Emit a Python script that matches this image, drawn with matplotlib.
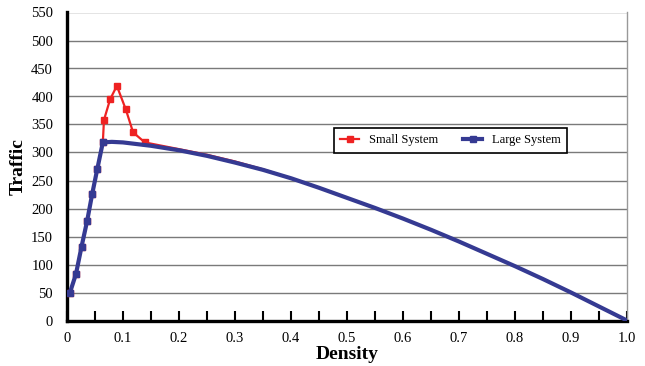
import matplotlib
matplotlib.use("Agg")
import matplotlib.pyplot as plt
from matplotlib.ticker import MultipleLocator

plt.rcParams['font.family'] = ['Liberation Serif', 'DejaVu Serif']

# Large system (blue)
large_x = [0.005, 0.016, 0.026, 0.036, 0.045, 0.054, 0.064, 0.08, 0.1, 0.125, 0.15,
           0.2, 0.25, 0.3, 0.35, 0.4, 0.45, 0.5, 0.55, 0.6, 0.65, 0.7, 0.75,
           0.8, 0.85, 0.9, 0.95, 1.0]
large_y = [49, 83, 132, 178, 226, 270, 318, 319, 318, 315, 312,
           304, 294, 282, 269, 254, 237, 219, 201, 182, 162, 141, 119,
           97, 74, 50, 25, 0]
large_n_markers = 7

# Small system (red)
small_x = [0.005, 0.016, 0.026, 0.036, 0.045, 0.054, 0.064, 0.066, 0.077, 0.089,
           0.105, 0.118, 0.139, 0.2, 0.25, 0.3, 0.35, 0.4, 0.45, 0.5, 0.55,
           0.6, 0.65, 0.7, 0.75, 0.8, 0.85, 0.9, 0.95, 1.0]
small_y = [49, 83, 132, 178, 226, 270, 318, 358, 395, 419,
           377, 336, 318, 306, 296, 284, 270, 254, 237, 219, 201,
           182, 162, 141, 119, 97, 74, 50, 25, 0]
small_n_markers = 13

x_ticks = [0, 0.1, 0.2, 0.3, 0.4, 0.5, 0.6, 0.7, 0.8, 0.9, 1.0]
x_tick_labels = ['0', '0.1', '0.2', '0.3', '0.4', '0.5', '0.6', '0.7', '0.8', '0.9', '1.0']
y_ticks = list(range(0, 551, 50))

fig = plt.figure(figsize=(6.45, 3.66), dpi=100)
ax = fig.add_axes([67/645, 1 - 320.5/366, 560/645, 308/366])

ax.plot(small_x, small_y, color='#ee2222', lw=1.6, marker='s', ms=4,
        markevery=list(range(small_n_markers)), label='Small System', zorder=3)
ax.plot(large_x, large_y, color='#353a92', lw=3.0, marker='s', ms=5,
        markevery=list(range(large_n_markers)), label='Large System', zorder=4)

ax.set_xlim(0, 1.0)
ax.set_ylim(0, 550)
ax.set_xticks(x_ticks)
ax.set_xticklabels(x_tick_labels)
ax.xaxis.set_minor_locator(MultipleLocator(0.05))
ax.set_yticks(y_ticks)
ax.tick_params(axis='x', which='both', direction='in', length=7, width=1.5,
               labelsize=10.5, pad=8, colors='black')
ax.tick_params(axis='y', length=0, labelsize=10.5, pad=10)
ax.grid(axis='y', color='#7a7a7a', lw=1.0)
ax.set_axisbelow(True)

for s in ['left', 'bottom']:
    ax.spines[s].set_linewidth(2.4)
    ax.spines[s].set_color('black')
ax.spines['right'].set_color('#999999')
ax.spines['right'].set_linewidth(1.0)
ax.spines['top'].set_visible(False)

ax.set_xlabel('Density', fontsize=14, fontweight='bold', labelpad=1)
ax.set_ylabel('Traffic', fontsize=14, fontweight='bold', labelpad=3)

leg = ax.legend(loc='upper left', bbox_to_anchor=(0.466, 0.645), ncol=2,
                fontsize=9, frameon=True, fancybox=False, edgecolor='black',
                handlelength=1.5, columnspacing=2.0, borderpad=0.5,
                handletextpad=0.8, framealpha=1)
leg.get_frame().set_linewidth(1.2)

fig.savefig('out.png', dpi=100)
